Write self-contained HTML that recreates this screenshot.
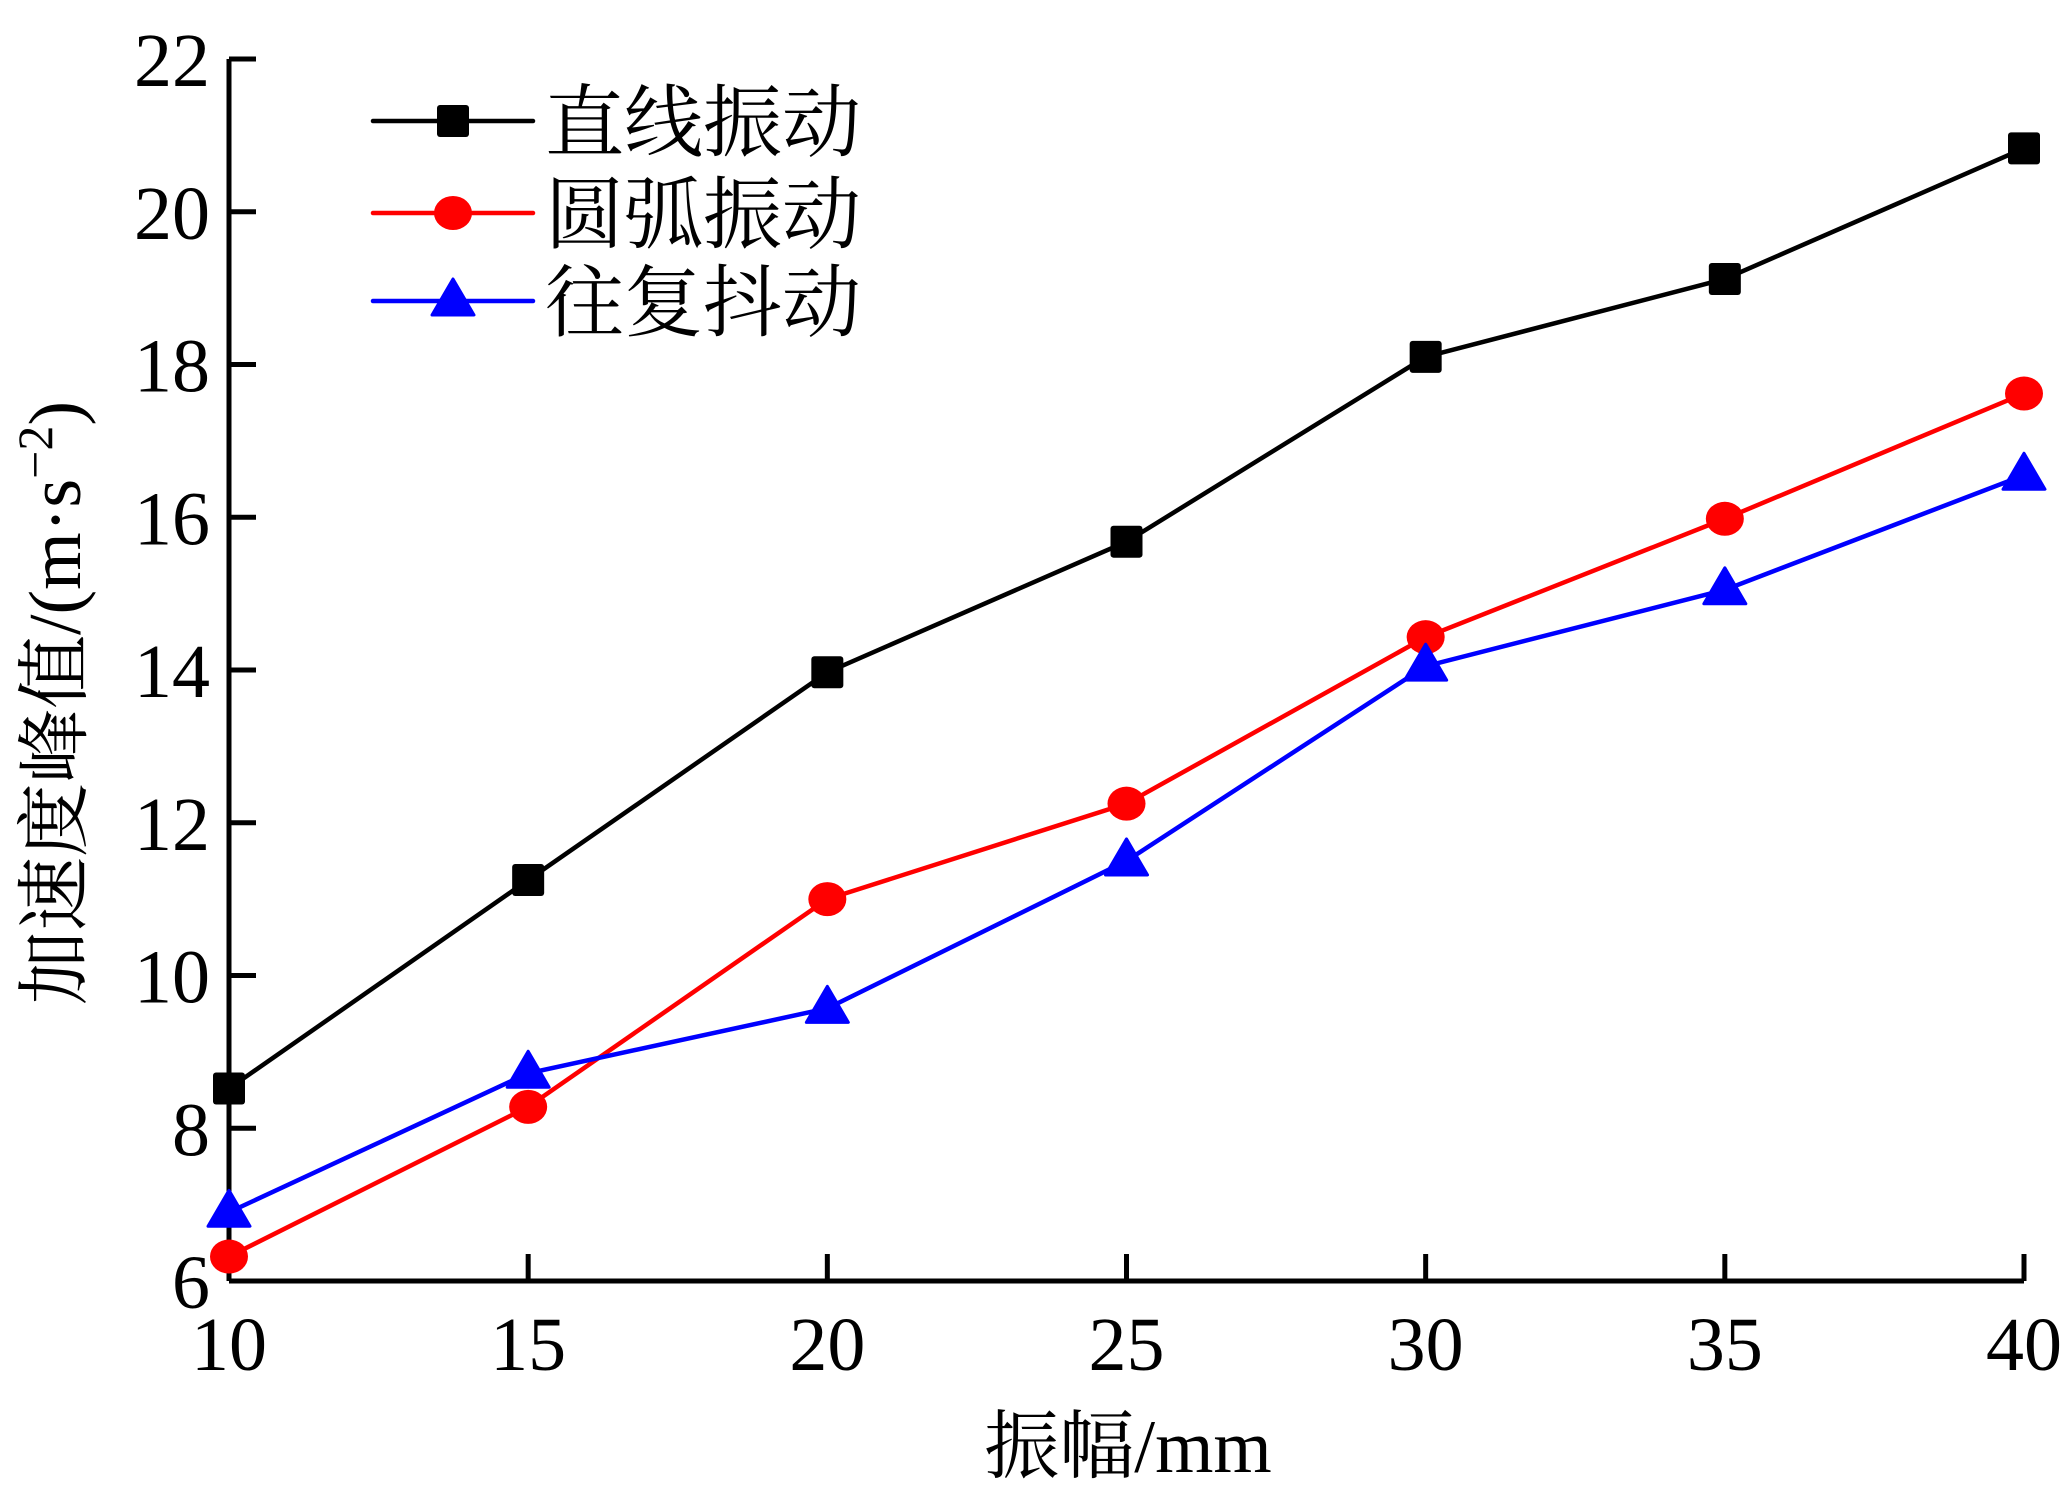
<!DOCTYPE html>
<html><head><meta charset="utf-8"><style>
html,body{margin:0;padding:0;background:#fff;}
svg{display:block;}
text{font-family:"Liberation Serif","Noto Serif CJK SC",serif;fill:#000;}
</style></head><body>
<svg id="chart" width="2064" height="1499" xmlns="http://www.w3.org/2000/svg">
<g id="axes"></g><g id="series"></g><g id="legend"></g>
</svg>
<script>
const categories=[10,15,20,25,30,35,40];
const straightVals=[8.52,11.25,13.97,15.68,18.1,19.12,20.83];
const arcVals=[6.32,8.28,11.0,12.25,14.43,15.98,17.62];
const recipVals=[6.9,8.72,9.57,11.5,14.05,15.05,16.55];
const yTicks=[6,8,10,12,14,16,18,20,22];
const xTicks=[10,15,20,25,30,35,40];
const seriesNames=['直线振动','圆弧振动','往复抖动'];
const NS='http://www.w3.org/2000/svg';
const X0=229,X1=2024,Y0=1281,Y1=59;
const xs=v=>X0+(v-10)/30*(X1-X0);
const ys=v=>Y0-(v-6)/16*(Y0-Y1);
function mk(tag,attrs,parent){const e=document.createElementNS(NS,tag);for(const k in attrs)e.setAttribute(k,attrs[k]);parent.appendChild(e);return e;}
const axes=document.getElementById('axes');
let a=mk('line',{x1:X0,y1:Y0,x2:X1,y2:Y0,stroke:'#000','stroke-width':5},axes);


a=mk('line',{x1:X0,y1:Y0,x2:X0,y2:Y1,stroke:'#000','stroke-width':5},axes);


xTicks.forEach(v=>{
 const t=mk('line',{x1:xs(v),y1:Y0,x2:xs(v),y2:Y0-27,stroke:'#000','stroke-width':5},axes);
 
 
 const l=mk('text',{x:xs(v),y:1370,'font-size':76,'text-anchor':'middle'},axes);l.textContent=v;
 
 
});
yTicks.forEach(v=>{
 const t=mk('line',{x1:X0,y1:ys(v),x2:X0+27,y2:ys(v),stroke:'#000','stroke-width':5},axes);
 
 
 const l=mk('text',{x:210,y:ys(v)+27,'font-size':76,'text-anchor':'end'},axes);l.textContent=v;
 
 
});
let xt=mk('text',{x:1128,y:1472,'font-size':75,'text-anchor':'middle'},axes);xt.textContent='振幅/mm';


let yt=mk('text',{x:0,y:0,'font-size':74,'text-anchor':'middle',transform:'translate(80,703) rotate(-90)'},axes);
yt.innerHTML='加速度峰值/(m·s<tspan dy="-28" font-size="50">−2</tspan><tspan dy="28">)</tspan>';


function marker(type,x,y,color,g){
 if(type==='square')return mk('rect',{x:x-16,y:y-16,width:32,height:32,fill:color,rx:3},g);
 if(type==='circle')return mk('ellipse',{cx:x,cy:y,rx:19,ry:17,fill:color},g);
 return mk('polygon',{points:`${x},${y-22} ${x+21},${y+14} ${x-21},${y+14}`,fill:color,'stroke':color,'stroke-width':3,'stroke-linejoin':'round'},g);
}
const ser=document.getElementById('series');
const defs=[[straightVals,'#000','square','series-straight-vibration'],[arcVals,'#ff0000','circle','series-arc-vibration'],[recipVals,'#0000ff','triangle','series-reciprocating-shake']];
defs.forEach(([vals,col,type,name])=>{
 const g=mk('g',{},ser);
 
 
 const pl=mk('polyline',{points:vals.map((v,i)=>xs(categories[i])+','+ys(v)).join(' '),fill:'none',stroke:col,'stroke-width':4.5},g);
 
 
 vals.forEach((v,i)=>{const m=marker(type,xs(categories[i]),ys(v),col,g);
  
  });
});
const leg=document.getElementById('legend');
const ly=[121,213,301];
defs.forEach(([vals,col,type],i)=>{
 const g=mk('g',{},leg);
 
 
 mk('line',{x1:373,y1:ly[i],x2:533,y2:ly[i],stroke:col,'stroke-width':4.5,'stroke-linecap':'round'},g);
 marker(type,453,ly[i],col,g);
 const t=mk('text',{x:545,y:ly[i]+29,'font-size':79},g);t.textContent=seriesNames[i];
});
</script>
</body></html>
